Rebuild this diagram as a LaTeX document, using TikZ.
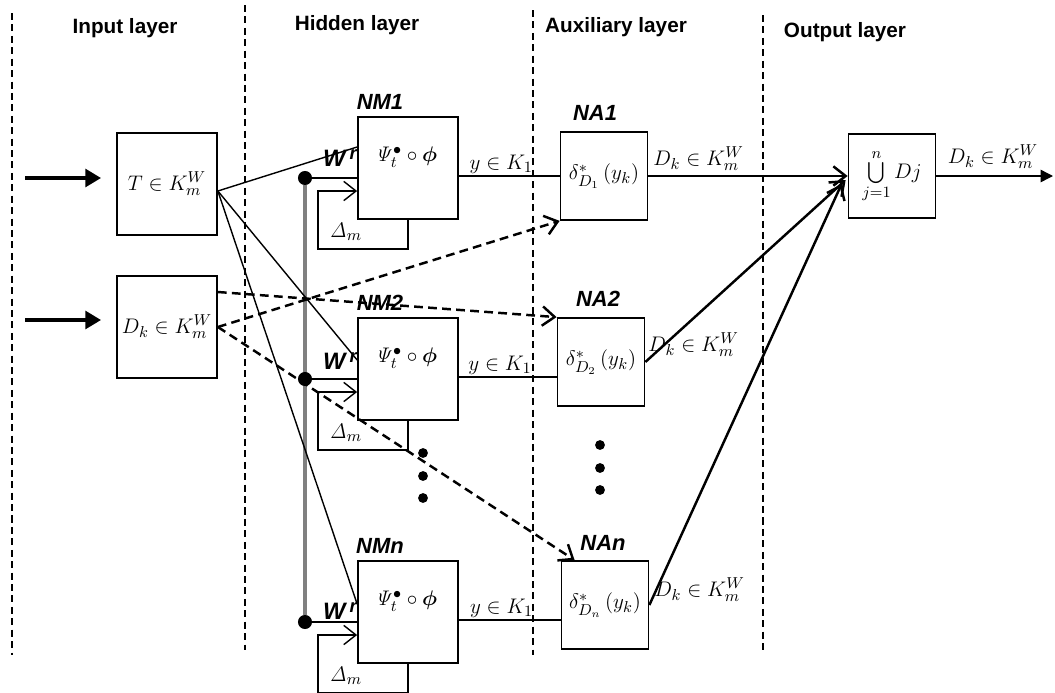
\documentclass[tikz,border=0pt]{standalone}
\usepackage[no-math]{fontspec}
\usepackage{amsmath,bm}
\setsansfont{Liberation Sans}
\usetikzlibrary{arrows.meta,calc,backgrounds}

\begin{document}
\begin{tikzpicture}[x=0.02cm, y=-0.02cm,
    box/.style={draw, line width=1pt, inner sep=0pt, font=\fontsize{13}{15}\selectfont},
    bigbox/.style={box, minimum width=2cm, minimum height=2.04cm},
    smallbox/.style={box, minimum width=1.74cm, minimum height=1.76cm},
    layer/.style={font=\sffamily\bfseries\fontsize{11.8}{14}\selectfont},
    unit/.style={font=\sffamily\bfseries\itshape\fontsize{12.5}{15}\selectfont},
    txt/.style={font=\fontsize{13}{15}\selectfont, inner sep=1pt},
    sep/.style={line width=0.8pt, dash pattern=on 4pt off 2.5pt},
    wire/.style={line width=0.8pt},
    barb/.style={-{Straight Barb[length=7pt,width=11pt]}},
    dwire/.style={line width=1.4pt, dash pattern=on 5pt off 3pt, barb},
    owire/.style={line width=1.4pt, barb},
    inarrow/.style={line width=2.8pt, -{Triangle[length=9pt,width=10pt]}},
    bus/.style={line width=1.8pt, gray},
    dot/.style={circle, fill, inner sep=0pt, minimum size=8pt}]
    \useasboundingbox (0,0) rectangle (1055,693);

    % layer borders and titles
    \foreach \x/\a/\b in {12/13/655, 245/5/650, 533/10/655, 763/15/650}
        \draw[sep] (\x,\a) -- (\x,\b);
    \node[layer] (hin) at (125,28) {Input layer};
    \node[layer] (hhid) at (357,25) {Hidden layer};
    \node[layer] (haux) at (616,27) {Auxiliary layer};
    \node[layer] (hout) at (845,32) {Output layer};

    % input layer
    \node[bigbox] (tin) at (167,184) {$T\in K_m^W$};
    \node[bigbox] (din) at (167,327) {$D_k\in K_m^W$};
    \coordinate (in1) at (25,178);
    \coordinate (in2) at (25,320);
    \draw[inarrow] (in1) -- ($(tin.west)+(-15,-6)$);
    \draw[inarrow] (in2) -- ($(din.west)+(-15,-7)$);

    % auxiliary layer
    \node[smallbox] (na1) at (604,176) {$\delta^{*}_{D_1}\,(y_k)$};
    \node[smallbox] (na2) at (601,362) {$\delta^{*}_{D_2}\,(y_k)$};
    \node[smallbox] (nan) at (605,605) {$\delta^{*}_{D_n}\,(y_k)$};
    \node[unit] (lna1) at (595,113) {NA1};
    \node[unit] (lna2) at (598,299) {NA2};
    \node[unit] (lnan) at (603,543) {NAn};

    % hidden layer
    \foreach \n/\y/\w in {1/168/-10, 2/369/-8, n/612/-1} {
        \node[bigbox] (nm\n) at (408,\y) {};
        \node[txt] (psi\n) at (406,\y-11) {$\mathit{\Psi}_t^{\bullet}\circ\boldsymbol{\phi}$};
        \node[unit] (lnm\n) at (380,\y-66) {NM\n};
        \node[dot] (w\n) at (305,\y+10) {};
        \draw[wire] (w\n) -- (w\n -| nm\n.west);
        \node[font=\sffamily\bfseries\itshape\fontsize{13.5}{15}\selectfont, inner sep=0pt] (wr\n) at (340,\y+\w)
            {W\,\raisebox{0.6ex}{\fontsize{10.5}{12}\selectfont r}};
        \draw[wire, barb] (nm\n.south) -- ++(0,29) -| ($(nm\n.west)+(-39,23)$) -- ($(nm\n.west)+(0,23)$);
        \node[txt] (dm\n) at ($(nm\n.south)+(-62,12)$) {$\mathit{\Delta}_m$};
        \coordinate (y\n) at ($(nm\n.east)+(0,8)$);
        \draw[wire] (y\n) -- node[txt, above, pos=0.42] {$y\in K_1$} (y\n -| na\n.west);
    }
    \begin{scope}[on background layer]
        \draw[bus] (w1) -- (wn);
    \end{scope}
    \foreach \y in {453,476,498} \fill (423,\y) circle (2.8pt);
    \foreach \y in {445,468,490} \fill (600,\y) circle (2.8pt);

    % input to hidden / auxiliary
    \coordinate (tout) at ($(tin.east)+(0,7)$);
    \draw[wire] (tout) -- ($(nm1.west)+(0,-21)$);
    \draw[wire] (tout) -- ($(nm2.west)+(0,-9)$);
    \draw[wire] (tout) -- ($(nmn.west)+(0,-8)$);
    \draw[dwire] ($(din.east)+(0,-35)$) -- (na2.north west);
    \draw[dwire] (din.east) -- (na1.south west);
    \draw[dwire] (din.east) -- ($(nan.north west)+(14,0)$);

    % output layer
    \node[box, minimum width=1.74cm, minimum height=1.68cm] (out) at (892,176) {$\bigcup\limits_{j=1}^{n} Dj$};
    \draw[owire] (na1.east) -- (out.west);
    \draw[owire] (na2.east) -- ($(out.west)+(-2,4)$);
    \draw[owire] (nan.east) -- ($(out.west)+(-6,8)$);
    \node[txt, anchor=west] (dk1) at ($(na1.east)+(3,-17)$) {$D_k\in K_m^W$};
    \node[txt, anchor=west] (dk2) at ($(na2.east)+(1,-17)$) {$D_k\in K_m^W$};
    \node[txt, anchor=west] (dkn) at ($(nan.east)+(3,-15)$) {$D_k\in K_m^W$};
    \coordinate (fin) at (1053,176);
    \draw[wire, -{Triangle[length=7pt,width=7pt]}] (out.east) -- (fin);
    \node[txt] (dout) at (993,157) {$D_k\in K_m^W$};
\end{tikzpicture}
\end{document}
